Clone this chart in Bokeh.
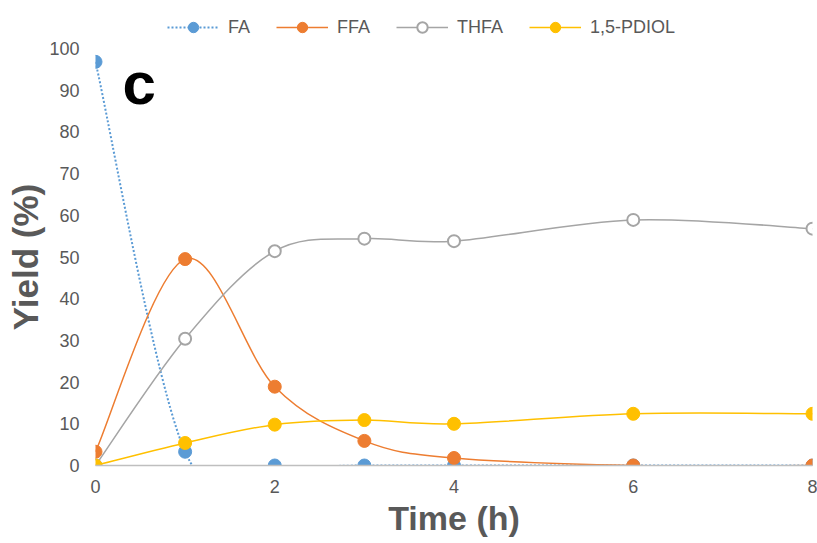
from bokeh.plotting import figure
from bokeh.layouts import column
from bokeh.models import (Range1d, ColumnDataSource, Legend, LegendItem, Label,
                          FixedTicker, LinearAxis)
from bokeh.embed import file_html
from bokeh.resources import INLINE

# ---- data ----
time_h = [0, 1, 2, 3, 4, 6, 8]
fa = [96.8, 3.3, 0, 0, 0, 0, 0]
ffa = [3.3, 49.5, 18.9, 5.9, 1.8, 0, 0]
thfa = [0, 30.4, 51.4, 54.4, 53.8, 58.9, 56.8]
pdiol = [0, 5.4, 9.8, 10.9, 10.0, 12.4, 12.4]
series_names = ["FA", "FFA", "THFA", "1,5-PDIOL"]
x_ticks = [0, 2, 4, 6, 8]
y_ticks = [0, 10, 20, 30, 40, 50, 60, 70, 80, 90, 100]

GRAY = "#595959"
FONT = "Liberation Sans"


def smooth_segments(xs, ys):
    """Excel-like smoothed line: cubic Bezier segments through the data points
    (Catmull-Rom control points)."""
    n = len(xs)
    d = dict(x0=[], y0=[], x1=[], y1=[], cx0=[], cy0=[], cx1=[], cy1=[])
    for i in range(n - 1):
        xm, ym = (xs[i - 1], ys[i - 1]) if i > 0 else (xs[i], ys[i])
        xp, yp = (xs[i + 2], ys[i + 2]) if i + 2 < n else (xs[i + 1], ys[i + 1])
        d["x0"].append(xs[i]); d["y0"].append(ys[i])
        d["x1"].append(xs[i + 1]); d["y1"].append(ys[i + 1])
        d["cx0"].append(xs[i] + (xs[i + 1] - xm) / 6.0)
        d["cy0"].append(ys[i] + (ys[i + 1] - ym) / 6.0)
        d["cx1"].append(xs[i + 1] - (xp - xs[i]) / 6.0)
        d["cy1"].append(ys[i + 1] - (yp - ys[i]) / 6.0)
    return ColumnDataSource(d)


styles = [
    dict(color="#5B9BD5", dash="2 2", width=2, fill="#5B9BD5"),
    dict(color="#ED7D31", dash="solid", width=1.5, fill="#ED7D31"),
    dict(color="#A5A5A5", dash="solid", width=1.5, fill="white"),
    dict(color="#FFC000", dash="solid", width=1.5, fill="#FFC000"),
]


def draw_series(fig, ys, st):
    src = smooth_segments(time_h, ys)
    ln = fig.bezier(x0="x0", y0="y0", x1="x1", y1="y1", cx0="cx0", cy0="cy0",
                    cx1="cx1", cy1="cy1", source=src, line_color=st["color"],
                    line_width=st["width"], line_dash=st["dash"])
    if st["fill"] == "white":
        sc = fig.scatter(time_h, ys, size=12, fill_color="white",
                         line_color=st["color"], line_width=2)
    else:
        sc = fig.scatter(time_h, ys, size=13, fill_color=st["fill"],
                         line_color=st["fill"], line_width=1)
    return ln, sc


# ---------------- main chart ----------------
p = figure(width=817, height=503, output_backend="svg", toolbar_location=None,
           x_range=Range1d(0, 8), y_range=Range1d(0, 100),
           min_border_left=95, min_border_right=5, min_border_top=8,
           min_border_bottom=78, x_axis_type=None, y_axis_type=None)
p.outline_line_color = None
p.background_fill_color = "white"
p.border_fill_color = "white"

xaxis = LinearAxis(ticker=FixedTicker(ticks=x_ticks))
yaxis = LinearAxis(ticker=FixedTicker(ticks=y_ticks))
p.add_layout(xaxis, "below")
p.add_layout(yaxis, "left")

for ax in (xaxis, yaxis):
    ax.major_tick_line_color = None
    ax.minor_tick_line_color = None
    ax.major_tick_out = 0
    ax.major_tick_in = 0
    ax.minor_tick_out = 0
    ax.minor_tick_in = 0
    ax.major_label_text_font = FONT
    ax.major_label_text_font_size = "18px"
    ax.major_label_text_color = GRAY
    ax.axis_label_text_font = FONT
    ax.axis_label_text_font_style = "bold"
    ax.axis_label_text_color = GRAY
xaxis.axis_label_text_font_size = "34px"
yaxis.axis_label_text_font_size = "35px"
xaxis.axis_line_color = "#BFBFBF"
xaxis.axis_line_width = 1.5
yaxis.axis_line_color = None
xaxis.axis_label = "Time (h)"
yaxis.axis_label = "Yield (%)"
xaxis.major_label_standoff = 14
yaxis.major_label_standoff = 16
xaxis.axis_label_standoff = 3
yaxis.axis_label_standoff = 1

p.xgrid.ticker = FixedTicker(ticks=x_ticks)
p.ygrid.ticker = FixedTicker(ticks=y_ticks)
p.xgrid.grid_line_color = "#D9D9D9"
p.ygrid.grid_line_color = "#D9D9D9"
p.xgrid.grid_line_width = 1.2
p.ygrid.grid_line_width = 1.2

for ys, st in zip([fa, ffa, thfa, pdiol], styles):
    draw_series(p, ys, st)

p.add_layout(Label(x=0.3, y=91.5, text="c", text_font=FONT,
                   text_font_style="bold", text_font_size="60px",
                   text_color="black", text_baseline="alphabetic"))

# ---------------- legend strip (same series, ranges kept out of view) -------
lg = figure(width=817, height=40, output_backend="svg", toolbar_location=None,
            x_range=Range1d(100, 101), y_range=Range1d(1000, 1001),
            min_border_left=0, min_border_right=0, min_border_top=0,
            min_border_bottom=0, x_axis_type=None, y_axis_type=None)
lg.outline_line_color = None
lg.grid.visible = False
lg.background_fill_color = "white"
lg.border_fill_color = "white"

items = []
for name, ys, st in zip(series_names, [fa, ffa, thfa, pdiol], styles):
    ln, sc = draw_series(lg, ys, st)
    items.append(LegendItem(label=name, renderers=[ln, sc]))

legend = Legend(items=items, orientation="horizontal", location=(72, 0),
                glyph_width=52, glyph_height=26, label_standoff=9, spacing=26,
                padding=0, margin=0, border_line_color=None,
                background_fill_alpha=0,
                label_text_font=FONT, label_text_font_size="18px",
                label_text_color=GRAY)
lg.add_layout(legend, "center")

layout = column(lg, p, spacing=0)
open("out.html", "w").write(file_html(layout, INLINE))
